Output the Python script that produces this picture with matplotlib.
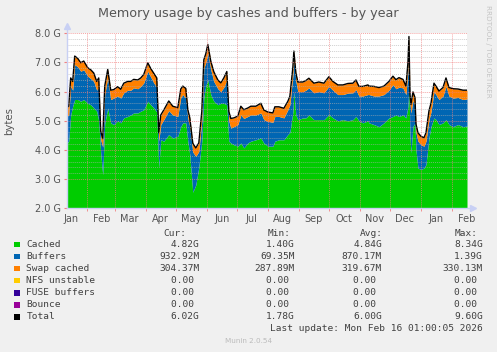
import datetime as dt
import matplotlib
matplotlib.use("Agg")
import matplotlib.pyplot as plt
from matplotlib.patches import Rectangle

# ---------------- data ----------------
days = [0, 2, 4, 6, 8, 11, 14, 17, 21, 24, 27, 30, 32, 34, 36, 38, 41, 44, 47, 51,
        54, 57, 61, 64, 67, 71, 74, 77, 81, 84, 87, 90, 92, 94, 97, 102, 106, 111, 114, 116,
        119, 121, 123, 126, 129, 132, 135, 137, 139, 141, 144, 147, 151, 154, 157, 160, 162, 164, 167, 171,
        174, 177, 181, 184, 189, 194, 197, 201, 206, 208, 212, 217, 221, 223, 226, 227, 229, 231, 236, 239,
        242, 247, 252, 257, 262, 266, 271, 276, 281, 286, 289, 292, 296, 301, 302, 307, 312, 317, 322, 326,
        329, 332, 336, 339, 341, 342, 343, 344, 346, 348, 349, 351, 354, 357, 359, 362, 364, 367, 369, 372,
        376, 379, 382, 386, 391, 396, 400]

cached = [4.24, 4.30, 5.20, 5.50, 5.73, 5.73, 5.67, 5.73, 5.60, 5.55, 5.44, 5.33, 5.00, 3.90, 3.15, 4.90, 5.44, 4.93, 4.87, 5.00,
          4.93, 5.10, 5.15, 5.20, 5.27, 5.27, 5.33, 5.38, 5.67, 5.55, 5.44, 5.30, 3.40, 4.35, 4.30, 4.53, 4.41, 4.47, 4.80, 4.93,
          4.93, 4.30, 3.84, 2.55, 2.80, 3.40, 4.30, 5.80, 6.20, 6.41, 5.90, 5.67, 5.55, 5.60, 5.60, 5.55, 4.30, 4.24, 4.18, 4.13,
          4.24, 4.07, 4.24, 4.30, 4.35, 4.41, 4.24, 4.13, 4.13, 4.30, 4.35, 4.35, 4.53, 4.60, 5.30, 6.00, 5.20, 5.04, 5.10, 5.10,
          5.20, 5.04, 5.04, 5.04, 5.21, 5.10, 5.00, 5.04, 5.00, 5.04, 5.15, 5.00, 4.93, 5.00, 4.93, 4.87, 4.80, 4.93, 5.10, 5.15,
          5.20, 5.15, 5.20, 5.10, 5.50, 6.20, 4.50, 3.90, 4.80, 4.93, 4.00, 3.38, 3.33, 3.38, 3.50, 4.41, 4.80, 5.10, 5.04, 4.87,
          4.93, 5.04, 4.87, 4.80, 4.87, 4.80, 4.82]

buffers = [0.91, 0.90, 0.98, 0.55, 1.20, 1.12, 1.03, 1.02, 0.93, 0.90, 0.91, 0.72, 1.15, 0.45, 0.95, 1.00, 1.03, 0.80, 0.91, 0.85,
           0.85, 0.86, 0.90, 0.85, 0.86, 0.83, 0.85, 0.92, 1.03, 0.95, 0.86, 0.85, 0.90, 0.52, 0.74, 0.82, 0.79, 0.68, 1.00, 0.97,
           0.85, 0.80, 0.96, 1.38, 0.98, 0.55, 0.70, 1.00, 0.80, 0.92, 0.85, 0.68, 0.55, 0.40, 0.55, 0.85, 0.70, 0.51, 0.62, 0.74,
           0.96, 1.01, 0.91, 0.90, 0.85, 0.86, 0.80, 0.85, 0.82, 0.85, 0.80, 0.75, 0.85, 0.95, 1.25, 1.10, 1.15, 0.96, 0.90, 0.95,
           0.93, 0.92, 0.96, 0.92, 0.97, 0.95, 0.90, 0.86, 0.95, 0.92, 0.92, 0.85, 0.92, 0.90, 0.97, 0.98, 1.05, 0.97, 0.95, 1.09,
           0.90, 1.00, 0.93, 0.80, 1.20, 1.39, 1.10, 1.37, 0.90, 0.57, 0.60, 0.92, 0.85, 0.75, 0.80, 0.63, 0.50, 0.90, 0.86, 0.86,
           0.92, 1.14, 0.98, 0.98, 0.93, 0.93, 0.93]

swap = [0.29, 0.30, 0.29, 0.30, 0.29, 0.29, 0.29, 0.30, 0.29, 0.30, 0.29, 0.30, 0.32, 0.30, 0.29, 0.29, 0.29, 0.32, 0.29, 0.32,
        0.30, 0.33, 0.30, 0.30, 0.29, 0.30, 0.29, 0.29, 0.29, 0.29, 0.33, 0.32, 0.29, 0.33, 0.33, 0.33, 0.30, 0.30, 0.29, 0.29,
        0.33, 0.29, 0.30, 0.30, 0.29, 0.29, 0.32, 0.29, 0.30, 0.29, 0.29, 0.33, 0.30, 0.30, 0.32, 0.29, 0.32, 0.33, 0.30, 0.29,
        0.30, 0.30, 0.29, 0.30, 0.30, 0.33, 0.33, 0.32, 0.32, 0.33, 0.33, 0.33, 0.29, 0.29, 0.29, 0.29, 0.29, 0.33, 0.33, 0.33,
        0.33, 0.33, 0.33, 0.33, 0.33, 0.30, 0.33, 0.33, 0.33, 0.33, 0.33, 0.33, 0.33, 0.33, 0.29, 0.33, 0.29, 0.29, 0.30, 0.29,
        0.31, 0.33, 0.29, 0.29, 0.30, 0.30, 0.30, 0.29, 0.29, 0.30, 0.29, 0.29, 0.29, 0.29, 0.29, 0.30, 0.30, 0.29, 0.29, 0.29,
        0.29, 0.29, 0.29, 0.32, 0.29, 0.32, 0.30]

series_names = ["Cached", "Buffers", "Swap cached", "NFS unstable", "FUSE buffers", "Bounce", "Total"]
series_colors = ["#00CC00", "#0066B3", "#FF8000", "#FFCC00", "#330099", "#990099", "#000000"]
cur_vals = ["4.82G", "932.92M", "304.37M", "0.00 ", "0.00 ", "0.00 ", "6.02G"]
min_vals = ["1.40G", "69.35M", "287.89M", "0.00 ", "0.00 ", "0.00 ", "1.78G"]
avg_vals = ["4.84G", "870.17M", "319.67M", "0.00 ", "0.00 ", "0.00 ", "6.00G"]
max_vals = ["8.34G", "1.39G", "330.13M", "0.00 ", "0.00 ", "0.00 ", "9.60G"]

y_ticks = [2, 3, 4, 5, 6, 7, 8]
y_tick_labels = ["2.0 G", "3.0 G", "4.0 G", "5.0 G", "6.0 G", "7.0 G", "8.0 G"]
month_names = ["Jan", "Feb", "Mar", "Apr", "May", "Jun", "Jul", "Aug", "Sep", "Oct", "Nov", "Dec", "Jan", "Feb"]

title = "Memory usage by cashes and buffers - by year"
last_update = "Last update: Mon Feb 16 01:00:05 2026"
end_time = dt.datetime(2026, 2, 16, 1, 0, 5)
span_days = 400

# ---------------- figure ----------------
W, H = 497, 352
fig = plt.figure(figsize=(W / 100, H / 100), dpi=100, facecolor="#F0F0F0")

L, R, T, B = 66.7, 467.0, 33.3, 208.3
ax = fig.add_axes([L / W, 1 - B / H, (R - L) / W, (B - T) / H])
ax.set_facecolor("white")
ax.set_xlim(0, span_days)
ax.set_ylim(2, 8)

top1 = [c + b for c, b in zip(cached, buffers)]
top2 = [t + s for t, s in zip(top1, swap)]
ax.fill_between(days, 0, cached, color=series_colors[0], lw=0, zorder=2)
ax.fill_between(days, cached, top1, color=series_colors[1], lw=0, zorder=2)
ax.fill_between(days, top1, top2, color=series_colors[2], lw=0, zorder=2)
ax.plot(days, top2, color="black", lw=1.0, zorder=3)

# grid
start_time = end_time - dt.timedelta(days=span_days)
def day_of(d):
    return (d - start_time).total_seconds() / 86400.0

month_starts = []
label_pos = []
y, m = start_time.year, start_time.month
cur = dt.datetime(y, m, 1)
while cur <= end_time + dt.timedelta(days=20):
    month_starts.append(day_of(cur))
    label_pos.append(day_of(cur + dt.timedelta(days=15)))
    m += 1
    if m > 12:
        m = 1
        y += 1
    cur = dt.datetime(y, m, 1)

dot = (0, (1, 1))
for k in range(30, 80, 2):
    v = k / 10.0
    if k % 10 == 0:
        continue
    ax.axhline(v, color="#b0b0b0", lw=0.7, ls=dot, alpha=0.6, zorder=4)
for v in y_ticks:
    ax.axhline(v, color="#f08080", lw=0.7, ls=dot, alpha=0.7, zorder=4)
for xs in month_starts:
    if 0 < xs < span_days + 0.5:
        ax.axvline(xs, color="#f08080", lw=0.7, ls=dot, alpha=0.7, zorder=4)

for s in ax.spines.values():
    s.set_visible(False)
axis_col = "#c8d0f4"
ax.plot([0, 0], [0, 1.035], transform=ax.transAxes, color=axis_col, lw=1, clip_on=False, zorder=5)
ax.plot([0, 1.012], [0, 0], transform=ax.transAxes, color=axis_col, lw=1, clip_on=False, zorder=5)
ax.plot([0], [1.04], marker="^", ms=4, color=axis_col, transform=ax.transAxes, clip_on=False, zorder=5)
ax.plot([1.015], [0], marker=">", ms=4, color=axis_col, transform=ax.transAxes, clip_on=False, zorder=5)

ax.set_yticks(y_ticks)
ax.set_yticklabels(y_tick_labels)
ax.tick_params(axis="y", length=2, color="#f08080", labelsize=7, labelcolor="#555555", pad=2)
ax.set_xticks([p for p in month_starts if 0 < p <= span_days + 0.5], minor=True)
ax.tick_params(axis="x", which="minor", length=2, color="#f08080")
lp = [p for p in label_pos if -5 < p < span_days + 5]
ax.set_xticks(lp)
ax.set_xticklabels(month_names[:len(lp)])
ax.tick_params(axis="x", which="major", length=0, labelsize=7, labelcolor="#555555", pad=4)

ax.set_ylabel("bytes", fontsize=7.3, color="#555555", labelpad=15)

fig.text(248.5 / W, 1 - 14 / H, title, ha="center", va="center", fontsize=9.2, color="#555555")
fig.text(488 / W, 1 - 5 / H, "RRDTOOL / TOBI OETIKER", rotation=-90, ha="center", va="top",
         fontsize=5.2, color="#c4c4c4")

# legend
mono = "DejaVu Sans Mono"
fs = 6.8
tc = "#404040"
def fy(py):
    return 1 - py / H

fig.text(186 / W, fy(233), "Cur:", ha="right", va="center", family=mono, fontsize=fs, color=tc)
fig.text(291 / W, fy(233), "Min:", ha="right", va="center", family=mono, fontsize=fs, color=tc)
fig.text(383 / W, fy(233), "Avg:", ha="right", va="center", family=mono, fontsize=fs, color=tc)
fig.text(478 / W, fy(233), "Max:", ha="right", va="center", family=mono, fontsize=fs, color=tc)
for i, name in enumerate(series_names):
    py = 244.5 + i * 12.05
    fig.patches.append(Rectangle(((14) / W, fy(py + 2.8)), 5.6 / W, 5.6 / H, transform=fig.transFigure,
                                 facecolor=series_colors[i], edgecolor="none"))
    fig.text(26.5 / W, fy(py), name, ha="left", va="center", family=mono, fontsize=fs, color=tc)
    fig.text(199.5 / W, fy(py), cur_vals[i], ha="right", va="center", family=mono, fontsize=fs, color=tc)
    fig.text(294.5 / W, fy(py), min_vals[i], ha="right", va="center", family=mono, fontsize=fs, color=tc)
    fig.text(382 / W, fy(py), avg_vals[i], ha="right", va="center", family=mono, fontsize=fs, color=tc)
    fig.text(483 / W, fy(py), max_vals[i], ha="right", va="center", family=mono, fontsize=fs, color=tc)

fig.text(483 / W, fy(328.5), last_update, ha="right", va="center", family=mono, fontsize=fs, color=tc)
fig.text(248.5 / W, fy(341), "Munin 2.0.54", ha="center", va="center", fontsize=5.2, color="#bbbbbb")

fig.savefig("out.png", dpi=100, facecolor=fig.get_facecolor())
